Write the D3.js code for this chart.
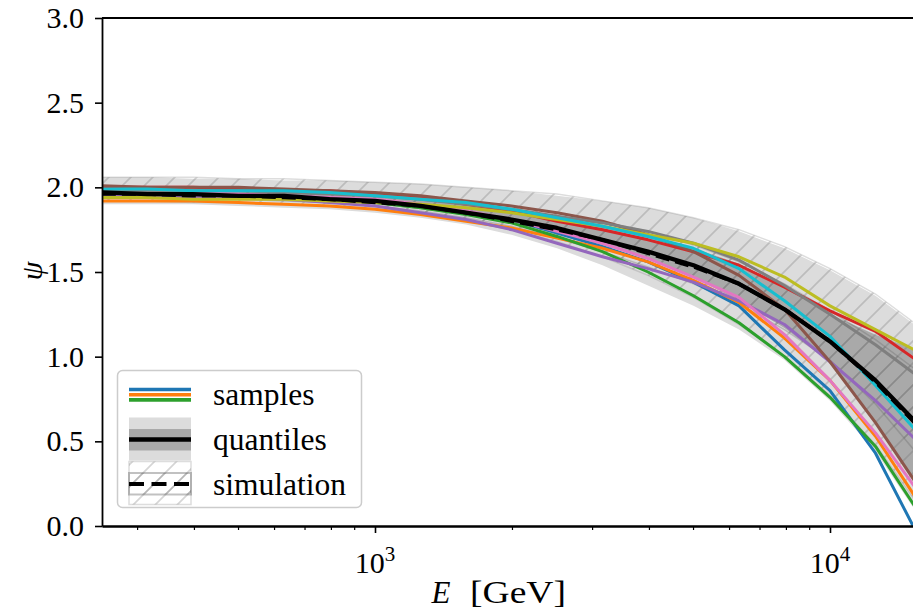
<!DOCTYPE html>
<html><head><meta charset="utf-8">
<script src="https://cdn.jsdelivr.net/npm/d3@7"></script>
<style>
body{margin:0;background:#fff}
svg{display:block}
text{font-family:"Liberation Serif","Times New Roman",serif;fill:#000}
</style>
</head><body>
<svg id="c" width="913" height="610"></svg>
<script>
// ---------------- data ----------------
const energy = [251, 316, 398, 501, 631, 794, 1000, 1259, 1585, 1995, 2512, 3162, 3981, 5012, 6310, 7943, 10000, 12589, 15849];

const sampleBlue   = [1.97,1.96,1.96,1.95,1.95,1.93,1.92,1.89,1.85,1.81,1.73,1.65,1.56,1.44,1.30,1.04,0.80,0.43,-0.09];
const sampleOrange = [1.92,1.92,1.92,1.91,1.90,1.89,1.87,1.84,1.80,1.76,1.70,1.64,1.56,1.45,1.32,1.11,0.86,0.53,0.12];
const sampleGreen  = [1.96,1.96,1.95,1.95,1.94,1.93,1.91,1.88,1.84,1.79,1.71,1.62,1.50,1.36,1.20,1.00,0.76,0.47,0.06];
const sampleRed    = [2.00,2.00,2.00,1.99,1.98,1.98,1.96,1.94,1.90,1.86,1.80,1.75,1.69,1.62,1.54,1.41,1.27,1.15,0.96];
const samplePurple = [1.95,1.95,1.94,1.94,1.93,1.91,1.89,1.85,1.81,1.75,1.67,1.59,1.52,1.44,1.33,1.19,0.97,0.74,0.48];
const sampleBrown  = [2.01,2.00,2.00,2.00,1.99,1.98,1.97,1.95,1.92,1.89,1.85,1.80,1.72,1.62,1.48,1.28,0.97,0.61,0.21];
const samplePink   = [1.97,1.97,1.97,1.96,1.95,1.94,1.93,1.90,1.86,1.81,1.74,1.67,1.58,1.47,1.35,1.13,0.86,0.55,0.18];
const sampleGray   = [1.98,1.98,1.98,1.98,1.97,1.96,1.95,1.93,1.90,1.87,1.83,1.79,1.74,1.67,1.57,1.42,1.25,1.07,0.87];
const sampleOlive  = [1.94,1.94,1.93,1.93,1.93,1.92,1.91,1.90,1.88,1.85,1.81,1.77,1.72,1.67,1.59,1.47,1.30,1.16,1.02];
const sampleCyan   = [1.99,1.99,1.98,1.98,1.98,1.97,1.95,1.93,1.91,1.87,1.82,1.77,1.71,1.64,1.52,1.33,1.12,0.83,0.53];

const quantMedian     = [1.97,1.96,1.96,1.95,1.95,1.93,1.92,1.89,1.85,1.81,1.76,1.69,1.62,1.54,1.43,1.28,1.09,0.86,0.58];
const quantOuterUpper = [2.06,2.06,2.05,2.05,2.04,2.04,2.03,2.02,2.00,1.98,1.95,1.92,1.88,1.82,1.74,1.64,1.51,1.36,1.16];
const quantOuterLower = [1.90,1.90,1.90,1.89,1.88,1.87,1.85,1.82,1.78,1.72,1.64,1.54,1.42,1.30,1.16,0.98,0.74,0.44,0.04];
const quantInnerUpper = [1.98,1.98,1.98,1.98,1.97,1.96,1.95,1.93,1.90,1.87,1.82,1.77,1.71,1.64,1.55,1.41,1.25,1.13,1.03];
const quantInnerLower = [1.95,1.95,1.94,1.94,1.93,1.92,1.90,1.87,1.84,1.79,1.73,1.66,1.58,1.47,1.33,1.17,0.97,0.61,0.21];

const simMedian     = [1.96,1.96,1.95,1.95,1.94,1.93,1.91,1.89,1.85,1.80,1.75,1.69,1.61,1.53,1.43,1.28,1.09,0.85,0.57];
const simOuterUpper = [2.06,2.06,2.06,2.05,2.05,2.04,2.03,2.02,2.00,1.98,1.96,1.92,1.88,1.82,1.75,1.65,1.52,1.37,1.17];
const simOuterLower = [1.92,1.92,1.91,1.91,1.90,1.89,1.87,1.84,1.80,1.75,1.68,1.59,1.48,1.35,1.19,1.00,0.77,0.48,0.10];
const simInnerUpper = [1.99,1.99,1.99,1.98,1.98,1.97,1.96,1.94,1.92,1.89,1.85,1.80,1.74,1.66,1.56,1.43,1.27,1.10,0.90];
const simInnerLower = [1.94,1.94,1.94,1.93,1.92,1.91,1.89,1.86,1.82,1.77,1.70,1.62,1.53,1.43,1.31,1.16,0.98,0.72,0.40];

const samples = [sampleBlue, sampleOrange, sampleGreen, sampleRed, samplePurple, sampleBrown, samplePink, sampleGray, sampleOlive, sampleCyan];
const sampleColors = ["#1f77b4","#ff7f0e","#2ca02c","#d62728","#9467bd","#8c564b","#e377c2","#7f7f7f","#bcbd22","#17becf"];

const yTicks = [0, 0.5, 1, 1.5, 2, 2.5, 3];
const yTickLabels = ["0.0","0.5","1.0","1.5","2.0","2.5","3.0"];
const xMajorTicks = [1000, 10000];
const xMajorExp = ["3","4"];
const xMinorTicks = [300,400,500,600,700,800,900,2000,3000,4000,5000,6000,7000,8000,9000];
const legendLabels = ["samples","quantiles","simulation"];

// ---------------- layout ----------------
const L = 102, R = 921, T = 18, B = 526;
const svg = d3.select("#c");
const x = d3.scaleLog().domain([251.19, 15848.9]).range([L, R]);
const y = d3.scaleLinear().domain([0, 3]).range([B, T]);

const defs = svg.append("defs");
defs.append("clipPath").attr("id","clip").append("rect")
  .attr("x",L).attr("y",T).attr("width",R-L).attr("height",B-T);
const hatch = defs.append("pattern").attr("id","hatch")
  .attr("patternUnits","userSpaceOnUse").attr("width",22).attr("height",22);
hatch.append("path").attr("d","M-5.5,5.5 L5.5,-5.5 M0,22 L22,0 M16.5,27.5 L27.5,16.5")
  .attr("stroke","rgba(105,105,105,0.28)").attr("stroke-width",1.7).attr("fill","none");

const plot = svg.append("g").attr("clip-path","url(#clip)");
const band = (lo, hi) => d3.area().x((d,i)=>x(energy[i])).y0((d,i)=>y(lo[i])).y1((d,i)=>y(hi[i]))(energy);
const line = arr => d3.line().x((d,i)=>x(energy[i])).y((d,i)=>y(arr[i]))(energy);

// quantile bands
plot.append("path").attr("d", band(quantOuterLower, quantOuterUpper)).attr("fill","#dcdcdc");
plot.append("path").attr("d", band(quantInnerLower, quantInnerUpper)).attr("fill","#a9a9a9");
// simulation bands (hatched)
plot.append("path").attr("d", band(simOuterLower, simOuterUpper))
  .attr("fill","url(#hatch)").attr("stroke","rgba(120,120,120,0.25)").attr("stroke-width",1.5);
plot.append("path").attr("d", band(simInnerLower, simInnerUpper))
  .attr("fill","url(#hatch)").attr("stroke","rgba(100,100,100,0.3)").attr("stroke-width",1.5);

// samples
samples.forEach((s, k) => {
  plot.append("path").attr("d", line(s)).attr("fill","none")
    .attr("stroke", sampleColors[k]).attr("stroke-width", 3).attr("stroke-linejoin","round");
});
// simulation median (dashed) underneath the quantile median
plot.append("path").attr("d", line(simMedian)).attr("fill","none")
  .attr("stroke","#000").attr("stroke-width",3.5).attr("stroke-dasharray","14,6");
plot.append("path").attr("d", line(quantMedian)).attr("fill","none")
  .attr("stroke","#000").attr("stroke-width",4.3).attr("stroke-linejoin","round");

// ---------------- axes ----------------
const yAxis = svg.append("g").attr("transform",`translate(${L},0)`)
  .call(d3.axisLeft(y).tickValues(yTicks).tickFormat((d,i)=>yTickLabels[i]).tickSize(7).tickSizeOuter(0).tickPadding(11));
const xAxis = svg.append("g").attr("transform",`translate(0,${B})`)
  .call(d3.axisBottom(x).tickValues(xMajorTicks).tickFormat("").tickSize(7).tickSizeOuter(0));
const xMinor = svg.append("g").attr("transform",`translate(0,${B})`)
  .call(d3.axisBottom(x).tickValues(xMinorTicks).tickFormat("").tickSize(4).tickSizeOuter(0));
[yAxis, xAxis, xMinor].forEach(g => {
  g.select(".domain").attr("stroke","#000").attr("stroke-width",1.8);
  g.selectAll(".tick line").attr("stroke","#000").attr("stroke-width",1.6);
});
xMinor.selectAll(".tick line").attr("stroke-width",1.2);
yAxis.selectAll(".tick text").attr("font-size",30).attr("font-family","Liberation Serif, serif").attr("fill","#000");
// top spine
svg.append("line").attr("x1",L).attr("x2",R).attr("y1",T).attr("y2",T).attr("stroke","#000").attr("stroke-width",1.8);

// x major tick labels 10^n
xMajorTicks.forEach((v,i) => {
  const t = svg.append("text").attr("x", x(v)).attr("y", 573).attr("text-anchor","middle").attr("font-size",30);
  t.append("tspan").text("10");
  t.append("tspan").attr("font-size",21).attr("dy",-12).text(xMajorExp[i]);
});

// axis labels
svg.append("text").attr("x",441).attr("y",603).attr("text-anchor","middle")
  .attr("font-size",31).attr("font-style","italic").text("E");
svg.append("text").attr("x",470).attr("y",603).attr("font-size",31)
  .attr("textLength",96).attr("lengthAdjust","spacingAndGlyphs").text("[GeV]");
svg.append("text").attr("transform","translate(31,271) rotate(-90)").attr("text-anchor","middle")
  .attr("dominant-baseline","central").attr("font-size",30).attr("font-style","italic").text("ψ");

// ---------------- legend ----------------
const lg = svg.append("g");
lg.append("rect").attr("x",117.5).attr("y",370.5).attr("width",244).attr("height",137).attr("rx",5)
  .attr("fill","rgba(255,255,255,0.8)").attr("stroke","#cccccc").attr("stroke-width",1.5);
const hx0 = 129, hx1 = 191;
// samples handle
[0,1,2].forEach(k => {
  lg.append("line").attr("x1",hx0).attr("x2",hx1).attr("y1",389.5+5.2*k).attr("y2",389.5+5.2*k)
    .attr("stroke",sampleColors[k]).attr("stroke-width",3.6);
});
// quantiles handle
lg.append("rect").attr("x",hx0).attr("y",417.5).attr("width",hx1-hx0).attr("height",43).attr("fill","#dcdcdc");
lg.append("rect").attr("x",hx0).attr("y",429).attr("width",hx1-hx0).attr("height",21.5).attr("fill","#a9a9a9");
lg.append("line").attr("x1",hx0).attr("x2",hx1).attr("y1",439.5).attr("y2",439.5).attr("stroke","#000").attr("stroke-width",4.3);
// simulation handle
lg.append("rect").attr("x",hx0).attr("y",461.5).attr("width",hx1-hx0).attr("height",43)
  .attr("fill","url(#hatch)").attr("stroke","rgba(120,120,120,0.25)").attr("stroke-width",1.5);
lg.append("rect").attr("x",hx0).attr("y",473).attr("width",hx1-hx0).attr("height",21.5)
  .attr("fill","url(#hatch)").attr("stroke","rgba(100,100,100,0.4)").attr("stroke-width",2);
lg.append("line").attr("x1",hx0).attr("x2",hx1).attr("y1",484).attr("y2",484)
  .attr("stroke","#000").attr("stroke-width",4).attr("stroke-dasharray","15,7.5");
legendLabels.forEach((s,i) => {
  lg.append("text").attr("x",213).attr("y",405 + 45*i).attr("font-size",31.5).text(s);
});
</script>
</body></html>
